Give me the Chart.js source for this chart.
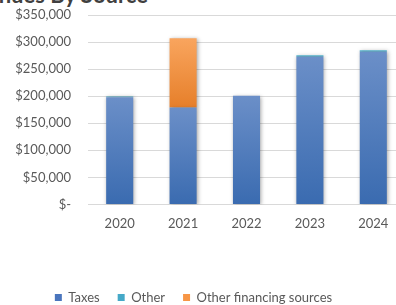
<!DOCTYPE html>
<html>
<head>
<meta charset="utf-8">
<script src="https://cdn.jsdelivr.net/npm/chart.js@4.4.1/dist/chart.umd.min.js"></script>
<style>
  html, body { margin:0; padding:0; background:#fff; overflow:hidden; width:396px; height:305px; }
  #wrap { position:absolute; left:0; top:0; width:405px; height:314px; }
  #title { position:absolute; right:248px; top:-16px; white-space:nowrap; font-family:Lato, sans-serif; font-weight:bold; font-size:22px; line-height:22px; color:#404040; }
</style>
</head>
<body>
<div id="title">Revenues By Source</div>
<div id="wrap"><canvas id="c"></canvas></div>
<script>
const categories = ['2020', '2021', '2022', '2023', '2024'];
const taxes = [198000, 179000, 201000, 273000, 282000];
const other = [1500, 0, 0, 2500, 3000];
const otherFinancing = [0, 128000, 0, 0, 0];
const yTicks = [0, 50000, 100000, 150000, 200000, 250000, 300000, 350000];
const seriesNames = ['Taxes', 'Other', 'Other financing sources'];

const solid = ['#4a75bd', '#45a9c8', '#f79646'];
const grads = [['#6b8fc8', '#3a6bb0'], ['#5cbcd6', '#3a9ab8'], ['#f9a55e', '#e67f2a']];
const allSeries = [taxes, other, otherFinancing];

function segFill(di) {
  return function(ctx) {
    const chart = ctx.chart;
    if (!chart.chartArea || ctx.type !== 'data') return solid[di];
    const i = ctx.dataIndex;
    let base = 0;
    for (let k = 0; k < di; k++) base += allSeries[k][i];
    const top = base + allSeries[di][i];
    const ys = chart.scales.y;
    const y0 = ys.getPixelForValue(top), y1 = ys.getPixelForValue(base);
    if (!isFinite(y0) || !isFinite(y1) || y1 - y0 < 1) return solid[di];
    const g = chart.ctx.createLinearGradient(0, y0, 0, y1);
    g.addColorStop(0, grads[di][0]);
    g.addColorStop(1, grads[di][1]);
    return g;
  };
}

const shadowPlugin = {
  id: 'shadow',
  beforeDatasetsDraw(chart) {
    const c = chart.ctx; c.save();
    c.shadowColor = 'rgba(0,0,0,0.35)'; c.shadowBlur = 4; c.shadowOffsetX = 1; c.shadowOffsetY = 1;
  },
  afterDatasetsDraw(chart) { chart.ctx.restore(); }
};
const legendShift = {
  id: 'legendShift',
  afterLayout(chart) { if (chart.legend) { chart.legend.left -= 9; chart.legend.right -= 9; } }
};

new Chart(document.getElementById('c'), {
  type: 'bar',
  data: {
    labels: categories,
    datasets: allSeries.map((d, k) => ({
      label: seriesNames[k],
      data: d,
      backgroundColor: segFill(k),
      borderWidth: 0,
      categoryPercentage: 1,
      barPercentage: 0.427
    }))
  },
  plugins: [shadowPlugin, legendShift],
  options: {
    responsive: true,
    maintainAspectRatio: false,
    animation: false,
    layout: { padding: { top: 15, left: 0, right: 0, bottom: 0 } },
    plugins: {
      title: { display: false },
      tooltip: { enabled: false },
      legend: {
        position: 'bottom',
        labels: {
          boxWidth: 7, boxHeight: 7, padding: 18,
          color: '#595959',
          font: { family: 'Lato', size: 13 },
          generateLabels(chart) {
            const items = Chart.defaults.plugins.legend.labels.generateLabels(chart);
            items.forEach((it, k) => { it.fillStyle = solid[k]; it.strokeStyle = solid[k]; it.lineWidth = 0; });
            return items;
          }
        }
      }
    },
    scales: {
      x: {
        stacked: true,
        grid: { display: false, drawTicks: false },
        border: { display: false },
        ticks: { color: '#595959', font: { family: 'Lato', size: 13 }, padding: 12 },
        afterFit(s) { s.height += 29; }
      },
      y: {
        stacked: true,
        min: 0, max: 350000,
        afterBuildTicks(s) { s.ticks = yTicks.map(v => ({ value: v })); },
        afterFit(s) { s.width = 88; },
        grid: { color: '#d9d9d9', lineWidth: 1, drawTicks: true, tickLength: 17, tickColor: 'rgba(0,0,0,0)' },
        border: { display: false },
        ticks: {
          color: '#595959', font: { family: 'Lato', size: 13 }, padding: 0,
          callback: v => v === 0 ? '$-' : '$' + v.toLocaleString('en-US')
        }
      }
    }
  }
});
</script>
</body>
</html>
